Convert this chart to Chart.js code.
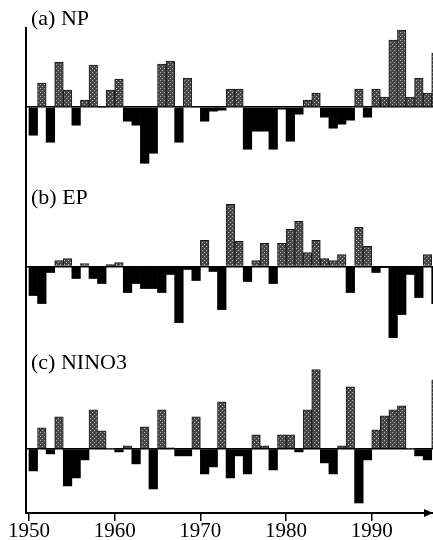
<!DOCTYPE html>
<html>
<head>
<meta charset="utf-8">
<script src="https://cdn.jsdelivr.net/npm/chart.js@4.4.1/dist/chart.umd.min.js"></script>
<style>
  html, body { margin: 0; padding: 0; background: #fff; overflow: hidden; }
  #wrap { position: relative; width: 433px; height: 542px; }
</style>
</head>
<body>
<div id="wrap"><canvas id="chart"></canvas></div>
<script>
// annual index values
const years = [1950, 1951, 1952, 1953, 1954, 1955, 1956, 1957, 1958, 1959,
  1960, 1961, 1962, 1963, 1964, 1965, 1966, 1967, 1968, 1969,
  1970, 1971, 1972, 1973, 1974, 1975, 1976, 1977, 1978, 1979,
  1980, 1981, 1982, 1983, 1984, 1985, 1986, 1987, 1988, 1989,
  1990, 1991, 1992, 1993, 1994, 1995, 1996, 1997];

const np = [-1.40, 1.20, -1.75, 2.25, 0.85, -0.90, 0.35, 2.10, 0.00, 0.85,
  1.40, -0.70, -0.90, -2.80, -2.30, 2.15, 2.30, -1.75, 1.45, 0.00,
  -0.70, -0.20, -0.15, 0.90, 0.90, -2.10, -1.20, -1.20, -2.10, -0.10,
  -1.70, -0.35, 0.35, 0.70, -0.50, -1.05, -0.85, -0.65, 0.90, -0.50,
  0.90, 0.50, 3.35, 3.85, 0.50, 1.45, 0.70, 2.70];

const ep = [-1.45, -1.85, -0.30, 0.30, 0.40, -0.60, 0.15, -0.60, -0.85, 0.10,
  0.20, -1.30, -0.85, -1.10, -1.10, -1.30, -0.40, -2.80, -0.15, -0.70,
  1.30, -0.25, -2.15, 3.10, 1.25, -0.75, 0.30, 1.15, -0.85, 1.15,
  1.85, 2.25, 0.70, 1.30, 0.40, 0.30, 0.60, -1.30, 1.95, 1.00,
  -0.30, -0.05, -3.55, -2.40, -0.40, -1.55, 0.60, -1.85];

const nino3 = [-1.10, 1.05, -0.25, 1.60, -1.85, -1.45, -0.55, 1.95, 0.90, 0.00,
  -0.15, 0.15, -0.75, 1.10, -2.00, 1.95, 0.05, -0.35, -0.35, 1.60,
  -1.25, -0.90, 2.35, -1.45, -0.35, -1.25, 0.70, 0.15, -1.05, 0.70,
  0.70, -0.15, 1.95, 3.95, -0.70, -1.25, 0.15, 3.10, -2.70, -0.55,
  0.95, 1.65, 1.95, 2.15, 0.00, -0.35, -0.55, 3.45];

const tickYears = [1950, 1960, 1970, 1980, 1990];
const panelLabels = ['(a) NP', '(b) EP', '(c) NINO3'];

const canvas = document.getElementById('chart');
const ctx = canvas.getContext('2d');

// stippled grey used for the positive bars
const tile = document.createElement('canvas');
tile.width = 4;
tile.height = 4;
const tctx = tile.getContext('2d');
tctx.fillStyle = '#474747';
tctx.fillRect(0, 0, 4, 4);
tctx.fillStyle = '#b8b8b8';
[[0, 0], [2, 2]].forEach(([a, b]) => tctx.fillRect(a, b, 1, 1));
const grey = ctx.createPattern(tile, 'repeat');

const barSet = (label, values, axis) => ({
  label: label,
  data: years.map((y, i) => ({ x: y + 0.5, y: values[i] })),
  yAxisID: axis,
  backgroundColor: values.map(v => (v >= 0 ? grey : '#000')),
  borderColor: '#1a1a1a',
  borderWidth: values.map(v => (v > 0 ? 1 : 0)),
  grouped: false,
  barPercentage: 1,
  categoryPercentage: 1
});

// every panel axis spans the whole plot; its min/max put the zero line in place
const panelAxis = (min, max, showBorder) => ({
  type: 'linear',
  position: 'left',
  min: min,
  max: max,
  afterBuildTicks: s => { s.ticks = [{ value: 0 }]; },
  ticks: { display: false },
  grid: { display: true, drawTicks: false, color: '#000', lineWidth: 1.5 },
  border: { display: showBorder, color: '#000', width: 2 }
});

const labelPlugin = {
  id: 'panelLabels',
  afterDraw(chart) {
    const c = chart.ctx;
    const baselines = [25, 204, 369];
    c.save();
    c.fillStyle = '#000';
    c.font = '22px "Liberation Serif", "Times New Roman", serif';
    c.textBaseline = 'alphabetic';
    panelLabels.forEach((t, i) => c.fillText(t, chart.chartArea.left + 5, baselines[i]));
    c.restore();
  }
};

const arrowPlugin = {
  id: 'axisArrow',
  afterDraw(chart) {
    const c = chart.ctx;
    const a = chart.chartArea;
    c.save();
    c.fillStyle = '#000';
    c.beginPath();
    c.moveTo(a.right, a.bottom);
    c.lineTo(a.right - 9, a.bottom - 4);
    c.lineTo(a.right - 9, a.bottom + 4);
    c.closePath();
    c.fill();
    c.restore();
  }
};

new Chart(ctx, {
  type: 'bar',
  data: {
    datasets: [
      barSet('NP', np, 'yNP'),
      barSet('EP', ep, 'yEP'),
      barSet('NINO3', nino3, 'yN3')
    ]
  },
  options: {
    responsive: true,
    maintainAspectRatio: false,
    animation: false,
    layout: { padding: { left: 26, right: 0, top: 28, bottom: 0 } },
    plugins: {
      legend: { display: false },
      tooltip: { enabled: false }
    },
    scales: {
      x: {
        type: 'linear',
        min: 1949.65,
        max: 1997.15,
        offset: false,
        afterBuildTicks: s => { s.ticks = tickYears.map(v => ({ value: v })); },
        grid: {
          display: true,
          offset: false,
          drawOnChartArea: false,
          drawTicks: true,
          tickLength: 8,
          color: '#000',
          lineWidth: 1.5
        },
        border: { display: true, color: '#000', width: 2 },
        ticks: {
          color: '#000',
          font: { family: 'Liberation Serif', size: 21, lineHeight: 1 },
          padding: 0,
          maxRotation: 0,
          autoSkip: false,
          callback: v => String(v)
        }
      },
      yNP: panelAxis(-20.25, 3.95, true),
      yEP: panelAxis(-12.3, 11.9, false),
      yN3: panelAxis(-3.2, 21.0, false)
    }
  },
  plugins: [labelPlugin, arrowPlugin]
});
</script>
</body>
</html>
